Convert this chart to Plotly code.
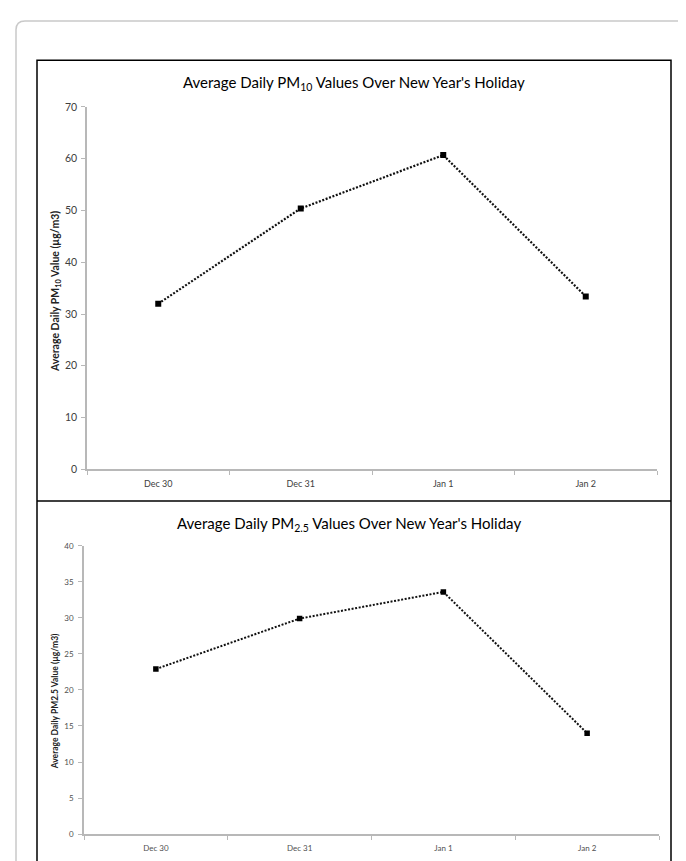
import plotly.graph_objects as go

# ---- data ----
days = ["Dec 30", "Dec 31", "Jan 1", "Jan 2"]
pm10_values = [32.0, 50.4, 60.7, 33.4]
pm25_values = [22.9, 29.9, 33.6, 14.0]
pm10_ticks = [0, 10, 20, 30, 40, 50, 60, 70]
pm25_ticks = [0, 5, 10, 15, 20, 25, 30, 35, 40]

W, H = 686, 861
FONT = "Lato"


def px(x):
    return x / W


def py(y):
    return 1 - y / H


fig = go.Figure()

fig.add_trace(go.Scatter(
    x=days, y=pm10_values, xaxis="x", yaxis="y", mode="lines+markers",
    line=dict(color="#111111", width=2.2, dash="2px,1.6px"),
    marker=dict(symbol="square", size=6, color="#000000"),
    showlegend=False, hoverinfo="skip",
))
fig.add_trace(go.Scatter(
    x=days, y=pm25_values, xaxis="x2", yaxis="y2", mode="lines+markers",
    line=dict(color="#111111", width=2.0, dash="2px,1.6px"),
    marker=dict(symbol="square", size=5.5, color="#000000"),
    showlegend=False, hoverinfo="skip",
))

axis_gray = "#b8b8b8"

common_x = dict(
    type="category", categoryorder="array", categoryarray=days,
    range=[-0.5, 3.5], showgrid=False, zeroline=False,
    showline=True, linecolor=axis_gray, linewidth=1.5,
    ticks="outside", ticklen=4, tickcolor=axis_gray, tickwidth=1,
    tickson="boundaries", fixedrange=True,
)
common_y = dict(
    showgrid=False, zeroline=False, showline=True, linecolor=axis_gray,
    linewidth=1.5, ticks="outside", ticklen=4, tickcolor=axis_gray,
    tickwidth=1, fixedrange=True,
)

fig.update_layout(
    width=W, height=H, margin=dict(l=0, r=0, t=0, b=0),
    paper_bgcolor="white", plot_bgcolor="white",
    font=dict(family=FONT, color="#404040"),
    xaxis=dict(common_x, domain=[px(79), px(649)], anchor="y",
               tickfont=dict(size=9, color="#404040"), ticklabelstandoff=5),
    yaxis=dict(common_y, domain=[py(461.7), py(94.3)], anchor="x",
               range=[0, 70], tickvals=pm10_ticks,
               tickfont=dict(size=10.5, color="#404040"), ticklabelstandoff=2),
    xaxis2=dict(common_x, domain=[px(76), px(651)], anchor="y2",
                tickfont=dict(size=8, color="#505050"), ticklabelstandoff=6),
    yaxis2=dict(common_y, domain=[py(831.7), py(539.3)], anchor="x2",
                range=[0, 40], tickvals=pm25_ticks,
                tickfont=dict(size=8, color="#505050"), ticklabelstandoff=3),
)

annotations = [
    dict(text="Average Daily PM<sub>10</sub> Values Over New Year's Holiday",
         x=px(346), y=py(70), xref="paper", yref="paper", showarrow=False,
         xanchor="center", yanchor="middle",
         font=dict(family=FONT, size=15, color="#000000")),
    dict(text="Average Daily PM<sub>2.5</sub> Values Over New Year's Holiday",
         x=px(341), y=py(517), xref="paper", yref="paper", showarrow=False,
         xanchor="center", yanchor="middle",
         font=dict(family=FONT, size=15, color="#000000")),
    dict(text="<b>Average Daily PM<sub>10</sub> Value (µg/m3)</b>",
         x=px(48), y=py(282), xref="paper", yref="paper", showarrow=False,
         textangle=-90, xanchor="center", yanchor="middle",
         font=dict(family=FONT, size=10.5, color="#222222")),
    dict(text="<b>Average Daily PM2.5 Value (µg/m3)</b>",
         x=px(47), y=py(697), xref="paper", yref="paper", showarrow=False,
         textangle=-90, xanchor="center", yanchor="middle",
         font=dict(family=FONT, size=8.5, color="#222222")),
]
fig.update_layout(annotations=annotations)

# ---- frame decoration ----
r = 9
gl, gt, gr, gb = 8, 7, 684, 875
rx, ry = r / W, r / H
outer = (f"M {px(gl)} {py(gb)} L {px(gl)} {py(gt) - ry} "
         f"Q {px(gl)} {py(gt)} {px(gl) + rx} {py(gt)} "
         f"L {px(gr) - rx} {py(gt)} "
         f"Q {px(gr)} {py(gt)} {px(gr)} {py(gt) - ry} "
         f"L {px(gr)} {py(gb)}")
shapes = [
    dict(type="path", path=outer, xref="paper", yref="paper",
         line=dict(color="#c9c9c9", width=1.5)),
    dict(type="rect", x0=px(29), x1=px(663), y0=py(47), y1=py(880),
         xref="paper", yref="paper", line=dict(color="#000000", width=1.5)),
    dict(type="line", x0=px(29), x1=px(663), y0=py(494), y1=py(494),
         xref="paper", yref="paper", line=dict(color="#000000", width=1.5)),
]
fig.update_layout(shapes=shapes)

fig.write_html("out.html")
